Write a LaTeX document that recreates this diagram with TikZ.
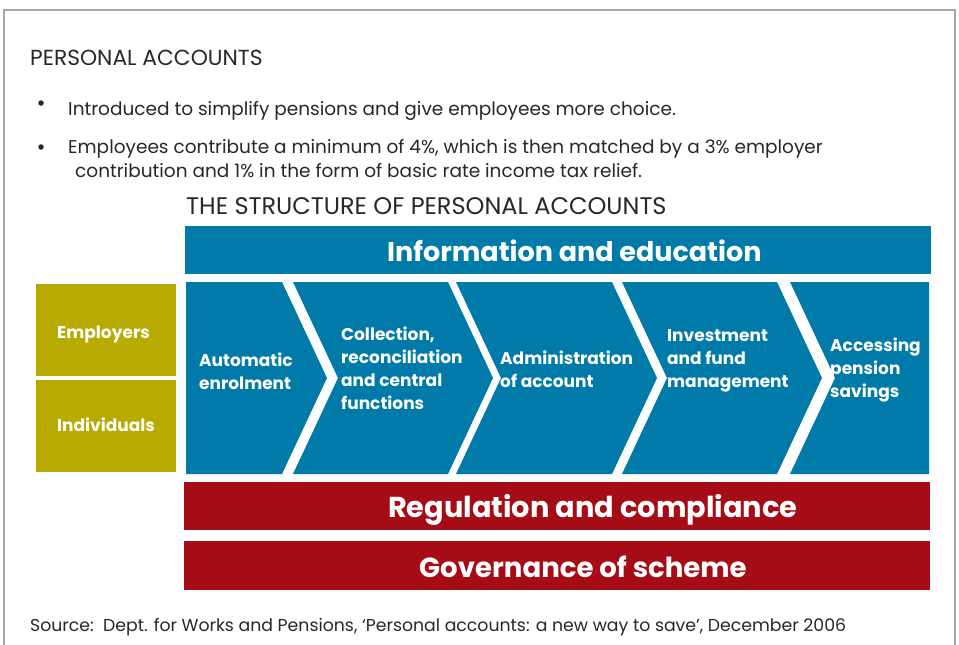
\documentclass[tikz,border=0pt]{standalone}
\usepackage{fontspec}
\setmainfont{Poppins}
\usetikzlibrary{positioning}
\definecolor{PABlue}{RGB}{0,122,168}
\definecolor{PAOlive}{RGB}{184,170,0}
\definecolor{PARed}{RGB}{166,12,22}
\definecolor{PAText}{RGB}{40,40,40}

\begin{document}
\begin{tikzpicture}[x=1pt, y=-1pt,
    % plain text lines
    bodytext/.style={anchor=base west, inner sep=0pt, text=PAText, font=\fontsize{18.5}{22}\selectfont},
    bulletdot/.style={circle, fill=PAText, inner sep=0pt, minimum size=5.5pt},
    % wide bars across the diagram
    bar/.style={anchor=north west, inner sep=0pt, outer sep=0pt,
                minimum width=746pt, minimum height=48pt},
    bartext/.style={anchor=base west, inner sep=0pt, text=white, font=\bfseries\fontsize{27}{30}\selectfont},
    % who pays in
    sidebox/.style={anchor=north west, inner sep=0pt, outer sep=0pt, fill=PAOlive,
                minimum width=140pt, minimum height=92pt},
    sidetext/.style={anchor=base west, inner sep=0pt, text=white, font=\bfseries\fontsize{17}{20}\selectfont},
    % chevron labels
    steplabel/.style={anchor=west, align=left, inner sep=0pt, text=white,
                font=\bfseries\fontsize{17}{23}\selectfont}
]
\useasboundingbox (0,0) rectangle (959,645);
\fill[white] (0,0) rectangle (959,645);
\draw[gray!70, line width=1.2pt] (4,10) rectangle (955,670);

% --- Text above ---
\node[bodytext, font=\fontsize{21.8}{24}\selectfont] (head) at (30,65) {PERSONAL ACCOUNTS};
\node[bulletdot] (b1) at (41,103) {};
\node[bodytext] (t1) at (68,115) {Introduced to simplify pensions and give employees more choice.};
\node[bulletdot] (b2) at (41,147) {};
\node[bodytext] (t2) at (68,153) {Employees contribute a minimum of 4\%, which is then matched by a 3\% employer};
\node[bodytext] (t3) at (75,177) {contribution and 1\% in the form of basic rate income tax relief.};
\node[bodytext, font=\fontsize{24}{28}\selectfont] (title) at (186,214) {THE STRUCTURE OF PERSONAL ACCOUNTS};

% --- Bars ---
\node[bar, fill=PABlue] (info) at (185,226) {};
\node[bartext] (infotext) at (387,261) {Information and education};
\node[bar, fill=PARed] (reg) at (184,482) {};
\node[bartext, font=\bfseries\fontsize{28.8}{30}\selectfont] (regtext) at (388,517) {Regulation and compliance};
\node[bar, fill=PARed, minimum height=49pt] (gov) at (184,541) {};
\node[bartext, font=\bfseries\fontsize{27.6}{30}\selectfont] (govtext) at (419,577) {Governance of scheme};

% --- Employers / individuals ---
\node[sidebox] (emp) at (36,284) {};
\node[sidetext] (emptext) at (57,338) {Employers};
\node[sidebox] (ind) at (36,380) {};
\node[sidetext] (indtext) at (57,431) {Individuals};

% --- Chevrons ---
\fill[PABlue] (186,282) -- (282,282) -- (327,378) -- (282,474) -- (186,474) -- cycle;
\foreach \l/\r in {293/448, 456/612, 622/777}
    \fill[PABlue] (\l,282) -- (\r,282) -- (\r+45,378) -- (\r,474) -- (\l,474) -- (\l+45,378) -- cycle;
\fill[PABlue] (790,282) -- (929,282) -- (929,474) -- (790,474) -- (835,378) -- cycle;

\node[steplabel] (s1) at (199,371) {Automatic\\enrolment};
\node[steplabel] (s2) at (341,368) {Collection,\\reconciliation\\and central\\functions};
\node[steplabel] (s3) at (500,369) {Administration\\of account};
\node[steplabel] (s4) at (667,361) {Investment\\and fund\\management};
\node[steplabel] (s5) at (830,370) {Accessing\\pension\\savings};

% --- Source ---
\node[bodytext, font=\fontsize{17.3}{20}\selectfont] (src) at (30,631) {Source:\ \ Dept. for Works and Pensions, ‘Personal accounts: a new way to save’, December 2006};
\end{tikzpicture}
\end{document}
